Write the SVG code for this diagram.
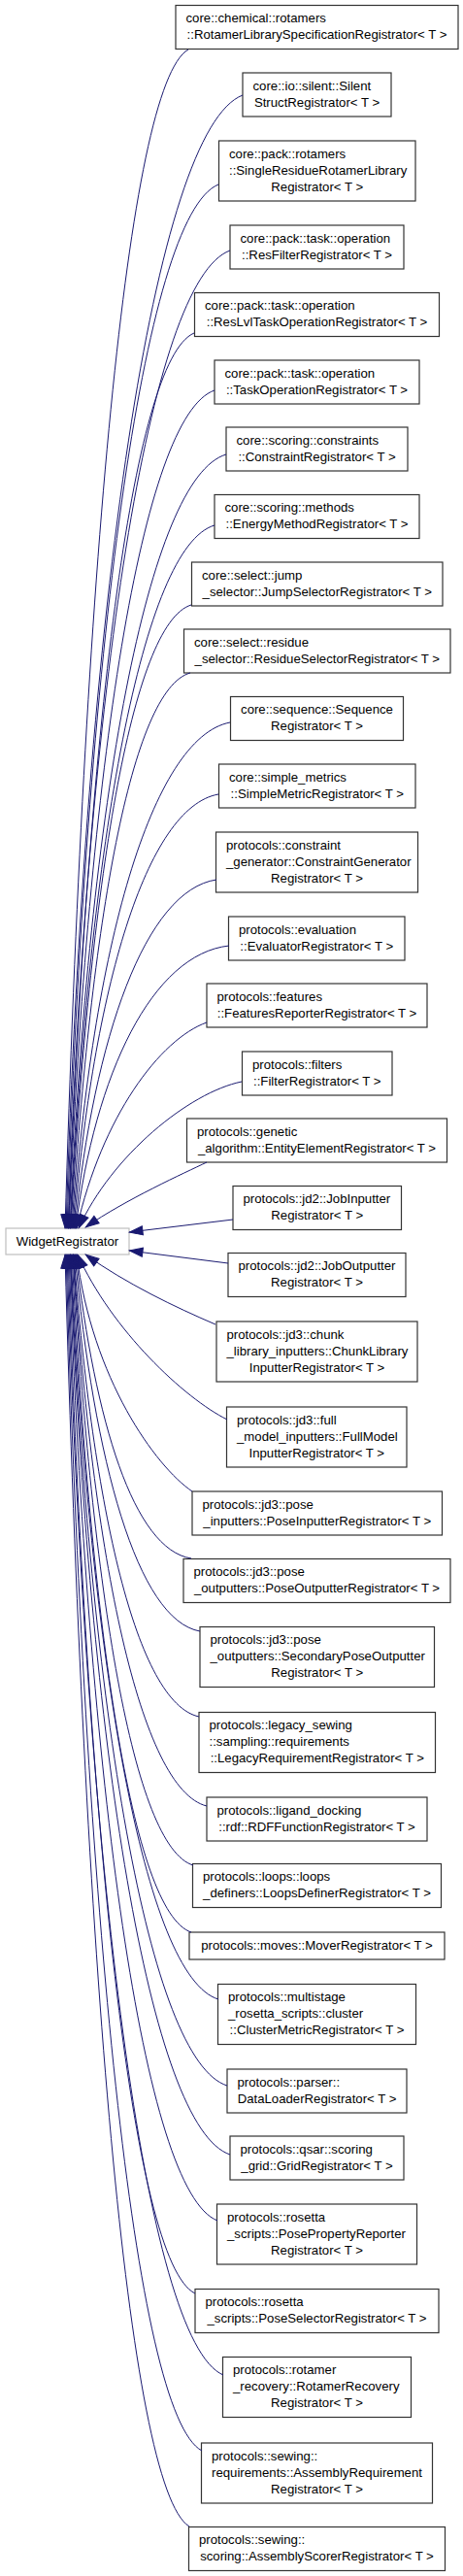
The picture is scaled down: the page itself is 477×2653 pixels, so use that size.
<svg xmlns="http://www.w3.org/2000/svg" width="477" height="2653" viewBox="0 0 477 2653">
<style>
.n rect{fill:#fff;stroke:#333;stroke-width:1.2}
.b rect{fill:#fff;stroke:#bfbfbf;stroke-width:1.2}
text{font-family:"Liberation Sans",Arial,Helvetica,sans-serif;font-size:13.2px;fill:#000}
.c{text-anchor:middle}
#edges path{fill:none;stroke:#191970;stroke-width:1;marker-end:url(#arr)}
</style>
<defs>
<marker id="arr" markerUnits="userSpaceOnUse" viewBox="-1 -6 16 12" refX="14" refY="0" markerWidth="16" markerHeight="12" orient="auto">
<path d="M0,-4.6 L13.6,0 L0,4.6 Z" fill="#191970" stroke="#191970" stroke-width="1"/>
</marker>
</defs>
<rect width="477" height="2653" fill="#fff"/>
<g id="WidgetRegistrator" class="b"><rect x="6" y="1265" width="127" height="27"/><text class="c" x="69.5" y="1282.5">WidgetRegistrator</text></g>
<g id="n1" class="n"><rect x="181" y="5.5" width="291" height="45"/><text x="191.5" y="23">core::chemical::rotamers</text><text class="c" x="326.5" y="40">::RotamerLibrarySpecificationRegistrator&lt; T &gt;</text></g>
<g id="n2" class="n"><rect x="250" y="75" width="153" height="45"/><text x="260.5" y="92.5">core::io::silent::Silent</text><text class="c" x="326.5" y="109.5">StructRegistrator&lt; T &gt;</text></g>
<g id="n3" class="n"><rect x="225.5" y="145" width="202.5" height="62"/><text x="236" y="162.5">core::pack::rotamers</text><text x="236" y="179.5">::SingleResidueRotamerLibrary</text><text class="c" x="326.75" y="196.5">Registrator&lt; T &gt;</text></g>
<g id="n4" class="n"><rect x="237" y="232" width="179" height="45"/><text x="247.5" y="249.5">core::pack::task::operation</text><text class="c" x="326.5" y="266.5">::ResFilterRegistrator&lt; T &gt;</text></g>
<g id="n5" class="n"><rect x="200.5" y="301.5" width="252" height="45"/><text x="211" y="319">core::pack::task::operation</text><text class="c" x="326.5" y="336">::ResLvlTaskOperationRegistrator&lt; T &gt;</text></g>
<g id="n6" class="n"><rect x="221" y="371" width="211" height="45"/><text x="231.5" y="388.5">core::pack::task::operation</text><text class="c" x="326.5" y="405.5">::TaskOperationRegistrator&lt; T &gt;</text></g>
<g id="n7" class="n"><rect x="233" y="440" width="187" height="45"/><text x="243.5" y="457.5">core::scoring::constraints</text><text class="c" x="326.5" y="474.5">::ConstraintRegistrator&lt; T &gt;</text></g>
<g id="n8" class="n"><rect x="221" y="509.5" width="211" height="45"/><text x="231.5" y="527">core::scoring::methods</text><text class="c" x="326.5" y="544">::EnergyMethodRegistrator&lt; T &gt;</text></g>
<g id="n9" class="n"><rect x="197.5" y="579" width="258.5" height="45"/><text x="208" y="596.5">core::select::jump</text><text class="c" x="326.75" y="613.5">_selector::JumpSelectorRegistrator&lt; T &gt;</text></g>
<g id="n10" class="n"><rect x="189.5" y="648" width="274.5" height="45"/><text x="200" y="665.5">core::select::residue</text><text class="c" x="326.75" y="682.5">_selector::ResidueSelectorRegistrator&lt; T &gt;</text></g>
<g id="n11" class="n"><rect x="237.5" y="717.5" width="178" height="45"/><text class="c" x="326.5" y="735">core::sequence::Sequence</text><text class="c" x="326.5" y="752">Registrator&lt; T &gt;</text></g>
<g id="n12" class="n"><rect x="225.5" y="787" width="202.5" height="45"/><text x="236" y="804.5">core::simple_metrics</text><text class="c" x="326.75" y="821.5">::SimpleMetricRegistrator&lt; T &gt;</text></g>
<g id="n13" class="n"><rect x="222.5" y="857" width="208" height="62"/><text x="233" y="874.5">protocols::constraint</text><text x="233" y="891.5">_generator::ConstraintGenerator</text><text class="c" x="326.5" y="908.5">Registrator&lt; T &gt;</text></g>
<g id="n14" class="n"><rect x="235.5" y="944" width="181.5" height="45"/><text x="246" y="961.5">protocols::evaluation</text><text class="c" x="326.25" y="978.5">::EvaluatorRegistrator&lt; T &gt;</text></g>
<g id="n15" class="n"><rect x="213" y="1013" width="227" height="45"/><text x="223.5" y="1030.5">protocols::features</text><text class="c" x="326.5" y="1047.5">::FeaturesReporterRegistrator&lt; T &gt;</text></g>
<g id="n16" class="n"><rect x="249.5" y="1083" width="154.5" height="45"/><text x="260" y="1100.5">protocols::filters</text><text class="c" x="326.75" y="1117.5">::FilterRegistrator&lt; T &gt;</text></g>
<g id="n17" class="n"><rect x="192.5" y="1152" width="268" height="45"/><text x="203" y="1169.5">protocols::genetic</text><text class="c" x="326.5" y="1186.5">_algorithm::EntityElementRegistrator&lt; T &gt;</text></g>
<g id="n18" class="n"><rect x="240" y="1221.5" width="173.5" height="45"/><text x="250.5" y="1239">protocols::jd2::JobInputter</text><text class="c" x="326.75" y="1256">Registrator&lt; T &gt;</text></g>
<g id="n19" class="n"><rect x="235" y="1290.5" width="183" height="45"/><text x="245.5" y="1308">protocols::jd2::JobOutputter</text><text class="c" x="326.5" y="1325">Registrator&lt; T &gt;</text></g>
<g id="n20" class="n"><rect x="223" y="1361" width="207" height="62"/><text x="233.5" y="1378.5">protocols::jd3::chunk</text><text x="233.5" y="1395.5">_library_inputters::ChunkLibrary</text><text class="c" x="326.5" y="1412.5">InputterRegistrator&lt; T &gt;</text></g>
<g id="n21" class="n"><rect x="233.5" y="1449" width="185.5" height="62"/><text x="244" y="1466.5">protocols::jd3::full</text><text x="244" y="1483.5">_model_inputters::FullModel</text><text class="c" x="326.25" y="1500.5">InputterRegistrator&lt; T &gt;</text></g>
<g id="n22" class="n"><rect x="198" y="1536" width="257.5" height="45"/><text x="208.5" y="1553.5">protocols::jd3::pose</text><text class="c" x="326.75" y="1570.5">_inputters::PoseInputterRegistrator&lt; T &gt;</text></g>
<g id="n23" class="n"><rect x="189" y="1605.5" width="275" height="45"/><text x="199.5" y="1623">protocols::jd3::pose</text><text class="c" x="326.5" y="1640">_outputters::PoseOutputterRegistrator&lt; T &gt;</text></g>
<g id="n24" class="n"><rect x="206" y="1675.5" width="241.5" height="62"/><text x="216.5" y="1693">protocols::jd3::pose</text><text x="216.5" y="1710">_outputters::SecondaryPoseOutputter</text><text class="c" x="326.75" y="1727">Registrator&lt; T &gt;</text></g>
<g id="n25" class="n"><rect x="205" y="1763.5" width="243.5" height="62"/><text x="215.5" y="1781">protocols::legacy_sewing</text><text x="215.5" y="1798">::sampling::requirements</text><text class="c" x="326.75" y="1815">::LegacyRequirementRegistrator&lt; T &gt;</text></g>
<g id="n26" class="n"><rect x="213" y="1851" width="227" height="45"/><text x="223.5" y="1868.5">protocols::ligand_docking</text><text class="c" x="326.5" y="1885.5">::rdf::RDFFunctionRegistrator&lt; T &gt;</text></g>
<g id="n27" class="n"><rect x="198.5" y="1919.5" width="256" height="45"/><text x="209" y="1937">protocols::loops::loops</text><text class="c" x="326.5" y="1954">_definers::LoopsDefinerRegistrator&lt; T &gt;</text></g>
<g id="n28" class="n"><rect x="195" y="1990" width="263" height="28"/><text class="c" x="326.5" y="2008">protocols::moves::MoverRegistrator&lt; T &gt;</text></g>
<g id="n29" class="n"><rect x="224.5" y="2043.5" width="204" height="62"/><text x="235" y="2061">protocols::multistage</text><text x="235" y="2078">_rosetta_scripts::cluster</text><text class="c" x="326.5" y="2095">::ClusterMetricRegistrator&lt; T &gt;</text></g>
<g id="n30" class="n"><rect x="234" y="2131" width="185" height="45"/><text x="244.5" y="2148.5">protocols::parser::</text><text class="c" x="326.5" y="2165.5">DataLoaderRegistrator&lt; T &gt;</text></g>
<g id="n31" class="n"><rect x="237" y="2200" width="179" height="45"/><text x="247.5" y="2217.5">protocols::qsar::scoring</text><text class="c" x="326.5" y="2234.5">_grid::GridRegistrator&lt; T &gt;</text></g>
<g id="n32" class="n"><rect x="223.5" y="2270" width="206" height="62"/><text x="234" y="2287.5">protocols::rosetta</text><text x="234" y="2304.5">_scripts::PosePropertyReporter</text><text class="c" x="326.5" y="2321.5">Registrator&lt; T &gt;</text></g>
<g id="n33" class="n"><rect x="201" y="2357.5" width="251" height="45"/><text x="211.5" y="2375">protocols::rosetta</text><text class="c" x="326.5" y="2392">_scripts::PoseSelectorRegistrator&lt; T &gt;</text></g>
<g id="n34" class="n"><rect x="229.5" y="2427.5" width="194" height="62"/><text x="240" y="2445">protocols::rotamer</text><text x="240" y="2462">_recovery::RotamerRecovery</text><text class="c" x="326.5" y="2479">Registrator&lt; T &gt;</text></g>
<g id="n35" class="n"><rect x="207.5" y="2516" width="238" height="62"/><text x="218" y="2533.5">protocols::sewing::</text><text x="218" y="2550.5">requirements::AssemblyRequirement</text><text class="c" x="326.5" y="2567.5">Registrator&lt; T &gt;</text></g>
<g id="n36" class="n"><rect x="194.5" y="2602.5" width="264" height="45"/><text x="205" y="2620">protocols::sewing::</text><text class="c" x="326.5" y="2637">scoring::AssemblyScorerRegistrator&lt; T &gt;</text></g>
<g id="edges">
<path d="M194,51 C130.5,87.4 87,597.3 67,1265"/>
<path d="M250,98 C159,133 88,623.2 68,1265"/>
<path d="M225,190 C147,222.3 89,673.8 69,1265"/>
<path d="M237,258 C153.5,288.2 90,711.2 70,1265"/>
<path d="M200,343 C135.3,370.7 90.5,757.9 70.5,1265"/>
<path d="M221,402 C146,427.9 91,790.4 71,1265"/>
<path d="M233,468 C152.5,491.9 92,826.7 72,1265"/>
<path d="M221,541 C146.8,562.7 92.5,866.8 72.5,1265"/>
<path d="M197,623 C135,642.3 93,911.9 73,1265"/>
<path d="M196,693 C135,710.2 94,950.4 74,1265"/>
<path d="M237,744 C156,759.6 95,978.5 75,1265"/>
<path d="M225,818 C150.5,831.4 96,1019.2 76,1265"/>
<path d="M223,906 C150,916.8 97,1067.6 77,1265"/>
<path d="M236,974 C157,982.7 98,1105 78,1265"/>
<path d="M213,1053 C165,1070 105,1150 79,1265"/>
<path d="M249,1114 C195,1125 115,1190 81,1265"/>
<path d="M213,1197 C190,1208 130,1235 88,1264"/>
<path d="M240,1256 L133,1269"/>
<path d="M235,1301 L133,1288"/>
<path d="M222,1364 C180,1346 130,1322 88,1292"/>
<path d="M234,1462 C190,1440 115,1370 80,1292"/>
<path d="M198,1536 C160,1510 95,1420 79,1292"/>
<path d="M197,1605 C137.5,1595.6 98,1464.2 78,1292"/>
<path d="M206,1680 C141.5,1668.4 97,1505.4 77,1292"/>
<path d="M205,1768 C140.5,1753.7 96,1553.8 76,1292"/>
<path d="M213,1860 C144.3,1843 95.5,1604.4 75.5,1292"/>
<path d="M199,1921 C137,1902.1 95,1638 75,1292"/>
<path d="M197,1990 C135.5,1969.1 94,1675.9 74,1292"/>
<path d="M225,2059 C149,2036 93,1713.9 73,1292"/>
<path d="M234,2148 C153.3,2122.3 92.5,1762.8 72.5,1292"/>
<path d="M237,2219 C154.5,2191.2 92,1801.9 72,1292"/>
<path d="M224,2287 C147.5,2257.2 91,1839.3 71,1292"/>
<path d="M201,2362 C135.5,2329.9 90,1880.5 70,1292"/>
<path d="M230,2446 C149.5,2411.4 89,1926.7 69,1292"/>
<path d="M208,2524 C138,2487 88,1969.6 68,1292"/>
<path d="M195,2602 C131,2562.7 87,2012.5 67,1292"/>
</g>
</svg>
